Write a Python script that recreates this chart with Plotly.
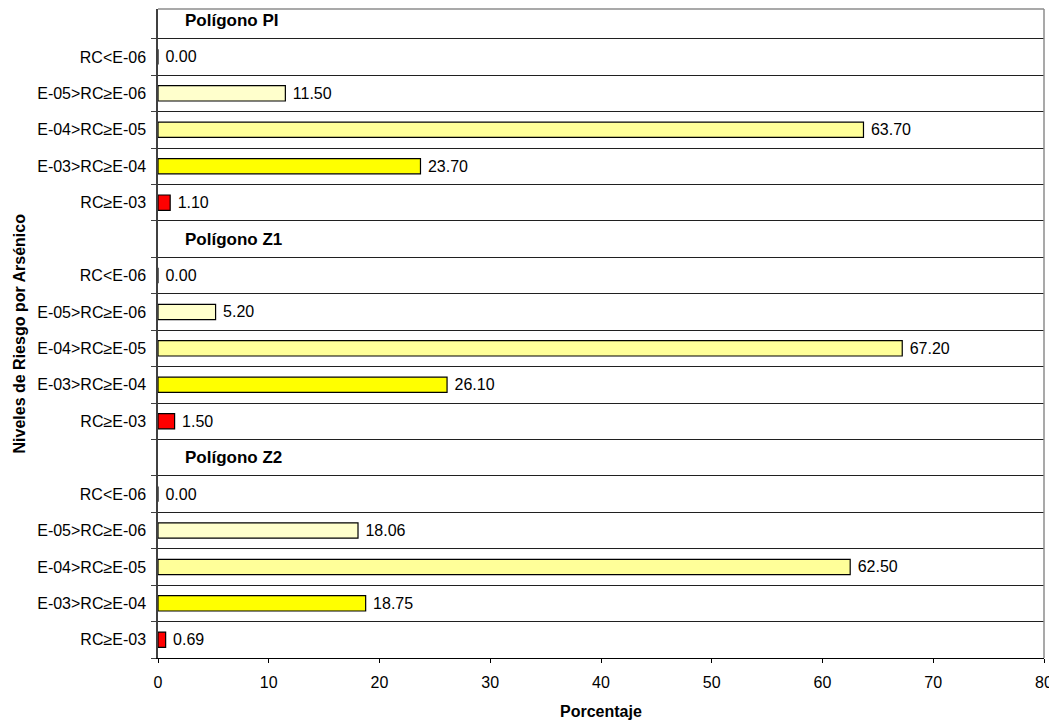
import plotly.graph_objects as go

groups = ["Polígono PI", "Polígono Z1", "Polígono Z2"]
levels = ["RC<E-06", "E-05>RC≥E-06", "E-04>RC≥E-05", "E-03>RC≥E-04", "RC≥E-03"]
level_colors = ["#FFFFCC", "#FFFFCC", "#FFFF99", "#FFFF00", "#FF0000"]

values_pi = [0.00, 11.50, 63.70, 23.70, 1.10]
values_z1 = [0.00, 5.20, 67.20, 26.10, 1.50]
values_z2 = [0.00, 18.06, 62.50, 18.75, 0.69]
group_values = [values_pi, values_z1, values_z2]

x_ticks = [0, 10, 20, 30, 40, 50, 60, 70, 80]

FONT = "Liberation Sans, Arial, sans-serif"

categories = []
ticktext = []
bar_y, bar_x, bar_c = [], [], []
for g, vals in zip(groups, group_values):
    hdr = g + "|hdr"
    categories.append(hdr)
    ticktext.append("")
    for lv, v, c in zip(levels, vals, level_colors):
        key = g + "|" + lv
        categories.append(key)
        ticktext.append(lv)
        bar_y.append(key)
        bar_x.append(v)
        bar_c.append(c)

fig = go.Figure()
fig.add_trace(go.Bar(
    orientation="h",
    x=bar_x, y=bar_y,
    marker=dict(color=bar_c, line=dict(color="#000000", width=1.2)),
    width=0.42,
    texttemplate="\u00a0%{x:.2f}",
    textposition="outside",
    constraintext="none",
    textfont=dict(family=FONT, size=16, color="#000000"),
    cliponaxis=False,
    hoverinfo="skip",
))

for g in groups:
    fig.add_annotation(
        x=0.028, xref="paper", xanchor="left",
        y=g + "|hdr", yref="y",
        text="<b>" + g + "</b>", showarrow=False,
        font=dict(family=FONT, size=17, color="#000000"),
    )

# axis titles
fig.add_annotation(
    x=0, xref="paper", xshift=-139, xanchor="center",
    y=0.5, yref="paper", yanchor="middle",
    text="<b>Niveles de Riesgo por Arsénico</b>", textangle=-90, showarrow=False,
    font=dict(family=FONT, size=16, color="#000000"),
)
fig.add_annotation(
    x=0.5, xref="paper", xanchor="center",
    y=0, yref="paper", yshift=-53, yanchor="middle",
    text="<b>Porcentaje</b>", showarrow=False,
    font=dict(family=FONT, size=16, color="#000000"),
)

# top and right borders
fig.add_shape(type="line", xref="paper", yref="paper", x0=0, x1=1, y0=1, y1=1,
              line=dict(color="#8c8c8c", width=1.5))
fig.add_shape(type="line", xref="paper", yref="paper", x0=1, x1=1, y0=0, y1=1,
              line=dict(color="#8c8c8c", width=1.5))

fig.update_layout(
    width=1049, height=713,
    margin=dict(l=150, r=13, t=1, b=63),
    plot_bgcolor="white", paper_bgcolor="white",
    showlegend=False,
    font=dict(family=FONT, size=16, color="#000000"),
    xaxis=dict(
        range=[0, 80], tickvals=x_ticks, ticks="outside", ticklen=4,
        tickcolor="#000000", showline=True, linecolor="#000000", linewidth=1,
        showgrid=False, zeroline=False, automargin=False,
        ticklabelstandoff=6,
        tickfont=dict(size=16),
    ),
    yaxis=dict(
        type="category", categoryorder="array", categoryarray=categories,
        tickvals=categories, ticktext=ticktext,
        autorange="reversed", tickson="boundaries",
        ticks="outside", ticklen=5, tickcolor="#404040",
        showline=True, linecolor="#404040", linewidth=1.5,
        showgrid=True, gridcolor="#202020", gridwidth=1,
        automargin=False, ticklabelstandoff=7,
        tickfont=dict(size=16),
    ),
)

fig.write_html("out.html")
